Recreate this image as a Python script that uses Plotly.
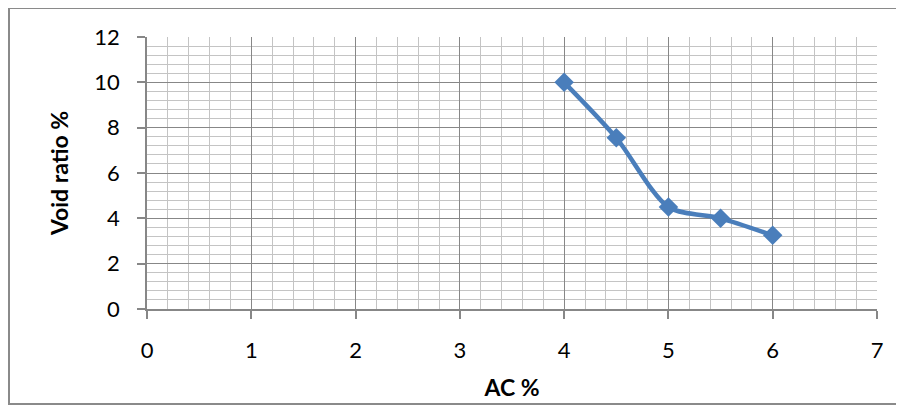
import plotly.graph_objects as go

ac_percent = [4, 4.5, 5, 5.5, 6]
void_ratio = [10.0, 7.55, 4.5, 4.0, 3.25]
x_ticks = [0, 1, 2, 3, 4, 5, 6, 7]
y_ticks = [0, 2, 4, 6, 8, 10, 12]

BLUE = "#4A7EBB"
MAJOR = "#878787"
MINOR = "#c4c4c4"
FONT = "Lato, Carlito, Calibri, sans-serif"

fig = go.Figure()
fig.add_trace(go.Scatter(
    x=ac_percent, y=void_ratio, mode="lines+markers",
    line=dict(color=BLUE, width=4.5, shape="spline", smoothing=0.8),
    marker=dict(symbol="diamond", size=15, color=BLUE, line=dict(width=0)),
    showlegend=False, cliponaxis=False,
))

# page body has an 8px margin, so the figure starts at (8, 8)
OFF = 8
W, H = 896, 398
L, T = 147 - OFF, 37 - OFF
R = W - (877 - OFF)
B = H - (309 - OFF)
pw, ph = W - L - R, H - T - B

def px_x(p):
    return (p - OFF - L) / pw

def px_y(p):
    return (H - B - (p - OFF)) / ph

fig.update_layout(
    width=W, height=H,
    margin=dict(l=L, r=R, t=T, b=B, autoexpand=False),
    paper_bgcolor="white", plot_bgcolor="white",
    font=dict(family=FONT, size=22, color="#000000"),
    shapes=[dict(type="rect", xref="paper", yref="paper",
                 x0=px_x(9), x1=px_x(906), y0=px_y(404), y1=px_y(8),
                 line=dict(color="#8a8a8a", width=2), fillcolor="rgba(0,0,0,0)",
                 layer="below")],
)

fig.update_xaxes(
    range=[0, 7], tickvals=x_ticks, ticktext=[str(v) for v in x_ticks],
    showgrid=True, gridcolor=MAJOR, gridwidth=1.3,
    minor=dict(dtick=0.2, tick0=0, showgrid=True, gridcolor=MINOR, gridwidth=1.3, ticks=""),
    showline=True, linecolor=MAJOR, linewidth=1.5, mirror=False,
    ticks="outside", ticklen=8, tickcolor=MAJOR, tickwidth=1.5,
    ticklabelstandoff=13, zeroline=False, automargin=False,
    title=dict(text="<b>AC %</b>", font=dict(size=23), standoff=18),
)
fig.update_yaxes(
    range=[0, 12], tickvals=y_ticks, ticktext=[str(v) for v in y_ticks],
    showgrid=True, gridcolor=MAJOR, gridwidth=1.3,
    minor=dict(dtick=0.4, tick0=0, showgrid=True, gridcolor=MINOR, gridwidth=1.3, ticks=""),
    showline=True, linecolor=MAJOR, linewidth=1.5,
    ticks="outside", ticklen=8, tickcolor=MAJOR, tickwidth=1.5,
    ticklabelstandoff=13, zeroline=False, automargin=False,
    title=dict(text="<b>Void ratio %</b>", font=dict(size=23), standoff=19),
)

fig.write_html("out.html")
